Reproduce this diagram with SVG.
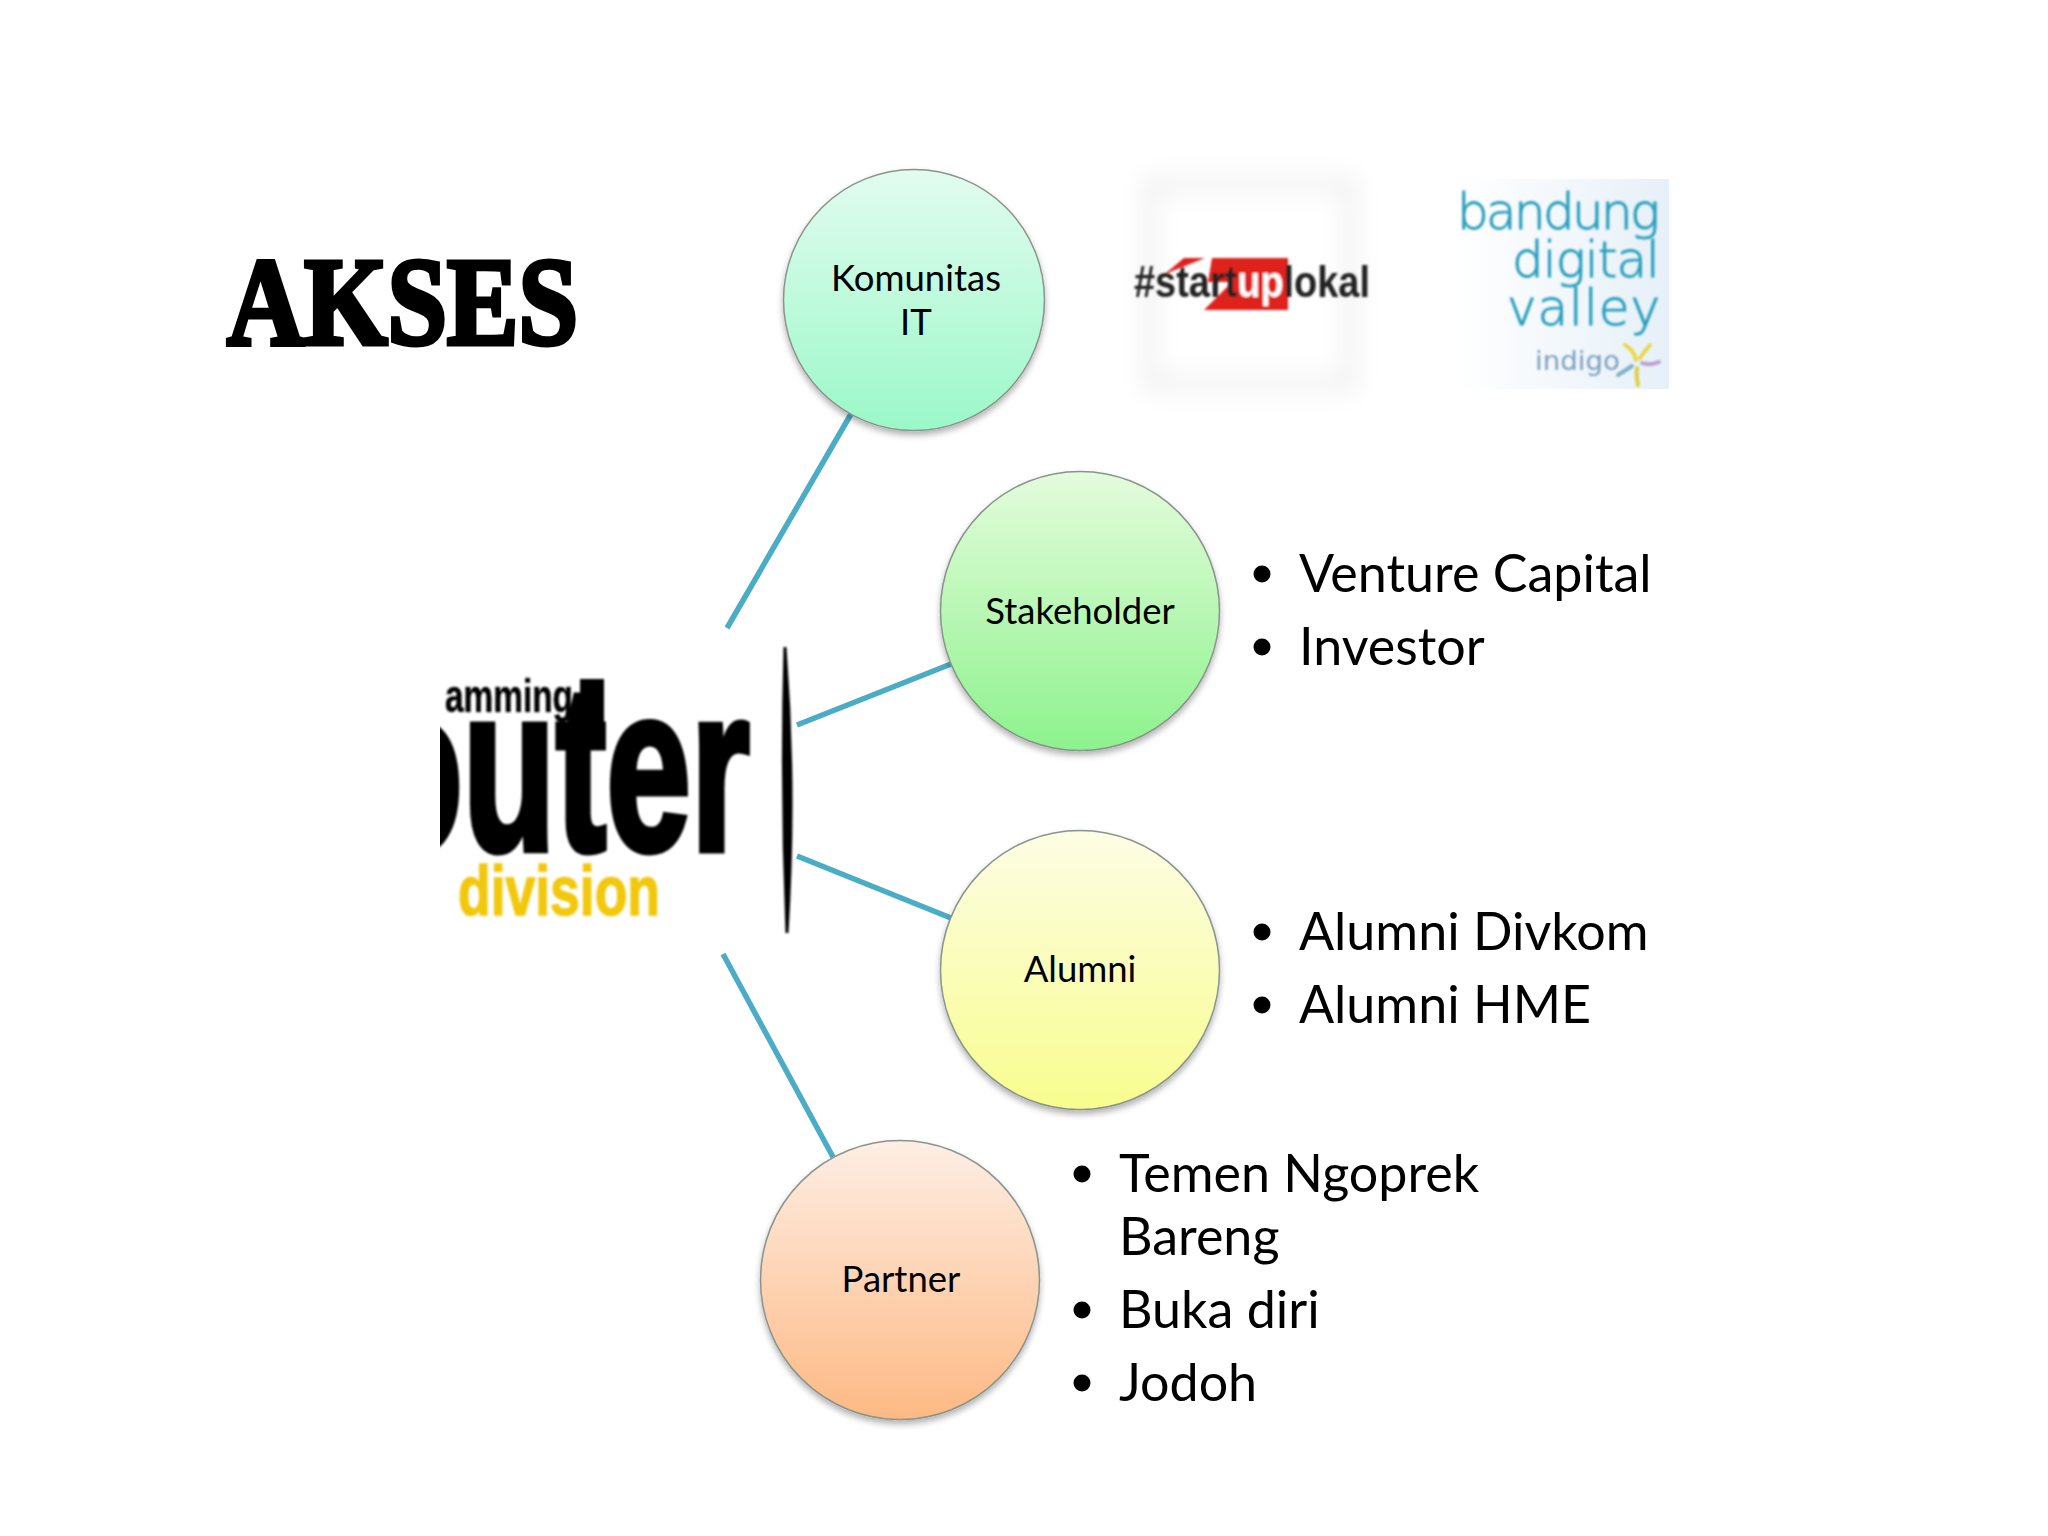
<svg xmlns="http://www.w3.org/2000/svg" width="2048" height="1536" viewBox="0 0 2048 1536">
<style>
.node{stroke:#8a948c;stroke-width:1.5;filter:url(#sh)}
.lbl{font-family:"Lato","Liberation Sans",sans-serif;font-size:36.5px;fill:#000;text-anchor:middle}
.bul{font-family:"Lato","Liberation Sans",sans-serif;font-size:52px;fill:#000}
.conn{stroke:#4bacc6;stroke-width:5.5;fill:none}
.logo{font-family:"Liberation Sans",sans-serif;font-weight:700}
.bd{font-family:"DejaVu Sans",sans-serif;font-weight:200;fill:#2a9fbc;stroke:#2a9fbc;stroke-width:0.9;font-size:50px;text-anchor:end}
</style>
<defs>
<filter id="sh" x="-10%" y="-10%" width="120%" height="125%"><feDropShadow dx="0" dy="4" stdDeviation="3" flood-color="#000" flood-opacity="0.3"/></filter>
<filter id="b1"><feGaussianBlur stdDeviation="1"/></filter>
<filter id="b8" x="-20%" y="-20%" width="140%" height="140%"><feGaussianBlur stdDeviation="12"/></filter>
<linearGradient id="g1" x1="0" y1="0" x2="0" y2="1"><stop offset="0" stop-color="#e2fcf0"/><stop offset="1" stop-color="#9bf8c8"/></linearGradient>
<linearGradient id="g2" x1="0" y1="0" x2="0" y2="1"><stop offset="0" stop-color="#e4fcdc"/><stop offset="1" stop-color="#8df28d"/></linearGradient>
<linearGradient id="g3" x1="0" y1="0" x2="0" y2="1"><stop offset="0" stop-color="#fdfde4"/><stop offset="1" stop-color="#f8fd8e"/></linearGradient>
<linearGradient id="g4" x1="0" y1="0" x2="0" y2="1"><stop offset="0" stop-color="#fdeee4"/><stop offset="1" stop-color="#fdb984"/></linearGradient>
<linearGradient id="gb" x1="0" y1="0" x2="1" y2="0"><stop offset="0" stop-color="#ffffff"/><stop offset="1" stop-color="#e6f0f8"/></linearGradient>
<clipPath id="cp"><rect x="440" y="640" width="360" height="300"/></clipPath>
</defs>
<rect width="2048" height="1536" fill="#fff"/>
<text id="title" x="227" y="344" font-family="Liberation Serif,serif" font-weight="700" font-size="124" stroke="#000" stroke-width="5" textLength="351" lengthAdjust="spacingAndGlyphs">AKSES</text>
<g id="connectors">
<line class="conn" x1="727" y1="628" x2="851" y2="414"/>
<line class="conn" x1="797" y1="725" x2="951" y2="664"/>
<line class="conn" x1="797" y1="856" x2="951" y2="918"/>
<line class="conn" x1="723" y1="954" x2="833" y2="1157"/>
</g>
<g id="node-komunitas"><circle class="node" cx="914" cy="300" r="130.5" fill="url(#g1)"/><text class="lbl" x="916" y="291">Komunitas</text><text class="lbl" x="916" y="335">IT</text></g>
<g id="node-stakeholder"><circle class="node" cx="1080" cy="611" r="139.5" fill="url(#g2)"/><text class="lbl" x="1080" y="624">Stakeholder</text></g>
<g id="node-alumni"><circle class="node" cx="1080" cy="970" r="139.5" fill="url(#g3)"/><text class="lbl" x="1080" y="982">Alumni</text></g>
<g id="node-partner"><circle class="node" cx="900" cy="1280" r="139.5" fill="url(#g4)"/><text class="lbl" x="901" y="1292">Partner</text></g>
<g id="list-stakeholder"><circle cx="1262" cy="574" r="8.5"/><text class="bul" x="1299" y="592">Venture Capital</text><circle cx="1262" cy="647" r="8.5"/><text class="bul" x="1299" y="665">Investor</text></g>
<g id="list-alumni"><circle cx="1262" cy="932" r="8.5"/><text class="bul" x="1299" y="950">Alumni Divkom</text><circle cx="1262" cy="1005" r="8.5"/><text class="bul" x="1299" y="1023">Alumni HME</text></g>
<g id="list-partner"><circle cx="1082" cy="1174" r="8.5"/><text class="bul" x="1119" y="1192">Temen Ngoprek</text><text class="bul" x="1119" y="1255">Bareng</text><circle cx="1082" cy="1310" r="8.5"/><text class="bul" x="1119" y="1328">Buka diri</text><circle cx="1082" cy="1383" r="8.5"/><text class="bul" x="1119" y="1401">Jodoh</text></g>
<g id="logo-center" filter="url(#b1)" clip-path="url(#cp)">
<text class="logo" x="445" y="712" font-size="46" font-weight="400" stroke="#222" stroke-width="0.5" textLength="128" lengthAdjust="spacingAndGlyphs">amming</text>
<text class="logo" x="370" y="850" font-size="236" stroke="#000" stroke-width="7" textLength="380" lengthAdjust="spacingAndGlyphs">outer</text>
<rect x="580" y="679" width="24" height="60" fill="#000"/>
<text class="logo" x="458" y="915" font-size="70" fill="#f2c80f" stroke="#f2c80f" stroke-width="1.5" textLength="202" lengthAdjust="spacingAndGlyphs">division</text>
<path d="M785 647Q796 790 787 933Q781 790 785 647Z" fill="#000" stroke="#000" stroke-width="3"/>
</g>
<g id="logo-startuplokal">
<rect x="1150" y="184" width="200" height="200" fill="none" stroke="#efefef" stroke-width="14" filter="url(#b8)"/>
<g filter="url(#b1)">
<path d="M1212 258H1288V310H1204L1232 282H1208Z" fill="#e0201c"/>
<path d="M1160 278L1184 258H1205L1170 272Z" fill="#e0201c"/>
<text class="logo" x="1134" y="297" font-size="44" font-weight="400" fill="#222" textLength="236" lengthAdjust="spacingAndGlyphs">#start<tspan fill="#fff" font-weight="700">up</tspan>lokal</text>
</g>
</g>
<g id="logo-bandung">
<rect x="1456" y="179" width="213" height="210" fill="url(#gb)"/>
<g filter="url(#b1)">
<text class="bd" x="1660" y="229" textLength="203" lengthAdjust="spacing">bandung</text>
<text class="bd" x="1660" y="277" textLength="148" lengthAdjust="spacing">digital</text>
<text class="bd" x="1660" y="325" textLength="153" lengthAdjust="spacing">valley</text>
<text x="1535" y="370" font-family="DejaVu Sans,sans-serif" font-size="27" fill="#7b9fc0" textLength="85" lengthAdjust="spacingAndGlyphs">indigo</text>
<g fill="none" stroke-width="4" stroke-linecap="round">
<path d="M1625 345Q1634 350 1636 360" stroke="#e8d84a"/><path d="M1650 345Q1644 352 1640 358" stroke="#e8d84a"/><path d="M1659 362Q1650 366 1642 363" stroke="#b8a0d0"/><path d="M1638 385Q1636 375 1637 368" stroke="#dcd040"/><path d="M1618 375Q1626 370 1632 366" stroke="#7fb0c8"/>
</g>
</g>
</g>
</svg>
